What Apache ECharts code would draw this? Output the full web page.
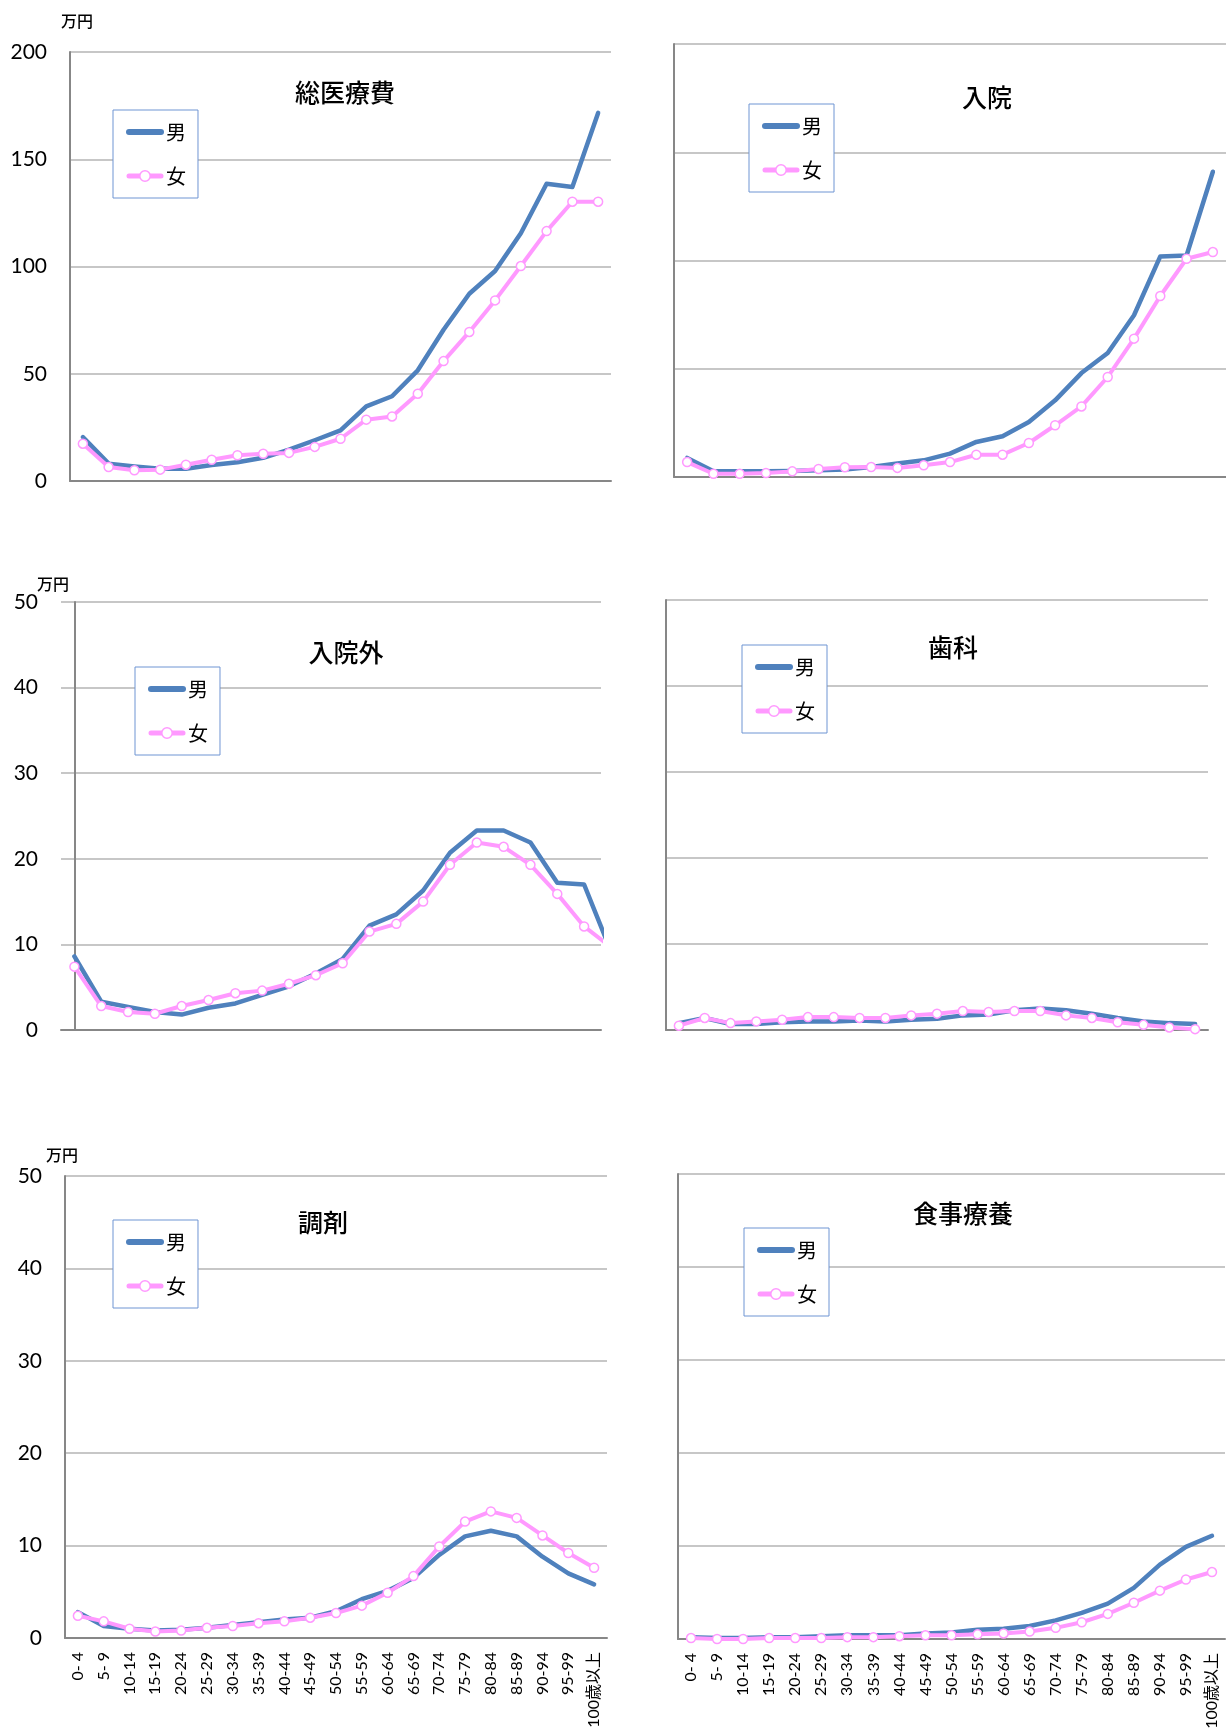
<!DOCTYPE html>
<html lang="ja">
<head>
<meta charset="utf-8">
<title>年齢階級別 一人当たり医療費</title>
<script src="https://cdn.jsdelivr.net/npm/echarts@6/dist/echarts.min.js"></script>
<style>
  html, body { margin: 0; padding: 0; background: #fff; }
  #chart { width: 1226px; height: 1733px; }
</style>
</head>
<body>
<div id="chart"></div>
<script>
// 年齢階級
const ageGroups = ['0- 4', '5- 9', '10-14', '15-19', '20-24', '25-29', '30-34', '35-39',
  '40-44', '45-49', '50-54', '55-59', '60-64', '65-69', '70-74', '75-79', '80-84',
  '85-89', '90-94', '95-99', '100歳以上'];

// 一人当たり医療費（万円）
const totalMale = [20.5, 8.1, 6.8, 5.7, 5.7, 7.5, 8.7, 10.8, 14.6, 19.0, 23.6, 34.8, 39.5, 51.6, 70.5, 87.3, 97.9, 115.5, 138.6, 137.1, 171.6];
const totalFemale = [17.4, 6.5, 5.0, 5.3, 7.6, 9.9, 12.0, 12.7, 13.1, 15.9, 19.7, 28.6, 30.1, 40.7, 55.9, 69.5, 84.2, 100.2, 116.5, 130.2, 130.2];

const inpatientMale = [8.8, 2.6, 2.6, 2.6, 2.8, 3.1, 3.5, 4.6, 6.2, 7.7, 10.8, 16.2, 18.8, 25.4, 35.4, 48.0, 57.3, 74.7, 101.9, 102.3, 141.0];
const inpatientFemale = [6.9, 1.5, 1.5, 1.8, 2.6, 3.7, 4.5, 4.6, 4.2, 5.4, 6.9, 10.3, 10.3, 15.7, 23.9, 32.6, 46.2, 63.9, 83.6, 100.8, 103.9];

const outpatientMale = [8.6, 3.3, 2.7, 2.1, 1.8, 2.6, 3.1, 4.1, 5.1, 6.6, 8.3, 12.2, 13.5, 16.3, 20.7, 23.3, 23.3, 21.9, 17.2, 17.0, 9.2];
const outpatientFemale = [7.4, 2.8, 2.1, 1.9, 2.8, 3.5, 4.3, 4.6, 5.4, 6.4, 7.8, 11.5, 12.4, 15.0, 19.3, 21.9, 21.4, 19.3, 15.9, 12.1, 9.7];

const dentalMale = [0.8, 1.4, 0.7, 0.7, 0.9, 1.0, 1.0, 1.1, 1.0, 1.2, 1.3, 1.7, 1.8, 2.3, 2.5, 2.3, 1.9, 1.4, 1.0, 0.8, 0.7];
const dentalFemale = [0.5, 1.4, 0.8, 1.0, 1.2, 1.5, 1.5, 1.4, 1.4, 1.7, 1.9, 2.2, 2.1, 2.2, 2.2, 1.7, 1.4, 0.9, 0.6, 0.3, 0.1];

const pharmacyMale = [2.8, 1.3, 1.0, 0.8, 0.9, 1.1, 1.4, 1.7, 2.0, 2.2, 2.9, 4.2, 5.1, 6.5, 9.0, 11.0, 11.6, 11.0, 8.8, 7.0, 5.8];
const pharmacyFemale = [2.4, 1.8, 1.0, 0.7, 0.8, 1.1, 1.3, 1.6, 1.8, 2.2, 2.7, 3.5, 4.9, 6.7, 9.9, 12.6, 13.7, 13.0, 11.1, 9.2, 7.6];

const mealMale = [0.2, 0.1, 0.1, 0.2, 0.2, 0.3, 0.4, 0.4, 0.4, 0.6, 0.7, 1.0, 1.1, 1.4, 2.0, 2.8, 3.8, 5.5, 8.0, 9.9, 11.1];
const mealFemale = [0.1, 0.0, 0.0, 0.1, 0.1, 0.1, 0.2, 0.2, 0.3, 0.4, 0.4, 0.5, 0.6, 0.8, 1.2, 1.8, 2.7, 3.9, 5.2, 6.4, 7.2];

const seriesNames = ['男', '女'];
const unitLabel = '万円';

// パネル構成（位置・目盛り）
const panels = [
  { title: '総医療費', male: totalMale, female: totalFemale, max: 200, interval: 50,
    yLabels: true, xLabels: false, grid: { left: 70, top: 52, width: 541, height: 429 },
    titleAt: [345, 92], legendAt: [113, 110], unitAt: [77, 21] },
  { title: '入院', male: inpatientMale, female: inpatientFemale, max: 200, interval: 50,
    yLabels: false, xLabels: false, grid: { left: 674, top: 44, width: 557, height: 433 },
    titleAt: [987, 97], legendAt: [749, 104] },
  // 右端が途切れたパネル：横軸を数値軸にして 95-99 の先で切る
  { title: '入院外', male: outpatientMale, female: outpatientFemale, max: 50, interval: 10,
    yLabels: true, xLabels: false, grid: { left: 61, top: 602, width: 540, height: 428 },
    cutAt: 19.63, titleAt: [346, 652], legendAt: [135, 667], unitAt: [53, 584] },
  { title: '歯科', male: dentalMale, female: dentalFemale, max: 50, interval: 10,
    yLabels: false, xLabels: false, grid: { left: 666, top: 600, width: 542, height: 430 },
    titleAt: [953, 647], legendAt: [742, 645] },
  { title: '調剤', male: pharmacyMale, female: pharmacyFemale, max: 50, interval: 10,
    yLabels: true, xLabels: true, grid: { left: 65, top: 1176, width: 542, height: 462 },
    titleAt: [323, 1222], legendAt: [113, 1220], unitAt: [62, 1155] },
  { title: '食事療養', male: mealMale, female: mealFemale, max: 50, interval: 10,
    yLabels: false, xLabels: true, grid: { left: 678, top: 1174, width: 547, height: 465 },
    titleAt: [963, 1213], legendAt: [744, 1228] }
];

const MALE = '#4f81bd';
const FEMALE = '#ff99ff';
const AXIS = '#878787';
const GRID = '#b4b4b4';
const NUM_FONT = 'Lato, "Liberation Sans", "Noto Sans CJK JP", sans-serif';
const JP_FONT = '"Noto Sans CJK JP", "Noto Sans", sans-serif';

const option = {
  animation: false,
  backgroundColor: '#fff',
  grid: [], xAxis: [], yAxis: [], series: [], legend: [], graphic: []
};

panels.forEach((p, i) => {
  option.grid.push(Object.assign({ containLabel: false }, p.grid));

  const axisLine = { show: true, lineStyle: { color: AXIS, width: 2 } };
  if (p.cutAt !== undefined) {
    option.xAxis.push({
      type: 'value', gridIndex: i, min: -0.5, max: p.cutAt,
      axisLine: axisLine, axisTick: { show: false }, axisLabel: { show: false },
      splitLine: { show: false }
    });
  } else {
    option.xAxis.push({
      type: 'category', gridIndex: i, data: ageGroups, boundaryGap: true,
      axisLine: axisLine, axisTick: { show: false }, splitLine: { show: false },
      axisLabel: {
        show: p.xLabels, interval: 0, rotate: 90, margin: 14,
        fontSize: 16, fontFamily: NUM_FONT, color: '#000'
      }
    });
  }

  option.yAxis.push({
    type: 'value', gridIndex: i, min: 0, max: p.max, interval: p.interval,
    axisLine: axisLine, axisTick: { show: false },
    axisLabel: { show: p.yLabels, fontSize: 21, fontFamily: NUM_FONT, color: '#000', margin: 23 },
    splitLine: { show: true, lineStyle: { color: GRID, width: 1.5 } }
  });

  const toData = arr => (p.cutAt !== undefined ? arr.map((v, k) => [k, v]) : arr);

  option.series.push({
    name: seriesNames[0], type: 'line', xAxisIndex: i, yAxisIndex: i,
    data: toData(p.male), symbol: 'none', clip: true, silent: true, z: 3,
    lineStyle: { color: MALE, width: 4.5, cap: 'round', join: 'round' },
    itemStyle: { color: MALE },
    emphasis: { disabled: true }
  });
  option.series.push({
    name: seriesNames[1], type: 'line', xAxisIndex: i, yAxisIndex: i,
    data: toData(p.female), symbol: 'circle', symbolSize: 9, clip: true, silent: true, z: 4,
    lineStyle: { color: FEMALE, width: 4, cap: 'round', join: 'round' },
    itemStyle: { color: '#fff', borderColor: FEMALE, borderWidth: 1.5 },
    emphasis: { disabled: true }
  });

  option.legend.push({
    orient: 'vertical', left: p.legendAt[0], top: p.legendAt[1],
    data: [
      { name: seriesNames[0], itemStyle: { opacity: 0 },
        lineStyle: { color: MALE, width: 6, cap: 'round' } },
      { name: seriesNames[1], itemStyle: { color: '#fff', borderColor: FEMALE, borderWidth: 1.5 },
        lineStyle: { color: FEMALE, width: 5, cap: 'round' } }
    ],
    selectedMode: false,
    backgroundColor: '#fff', borderColor: '#6f95d3', borderWidth: 1, borderRadius: 0,
    padding: [12, 12, 12, 13], itemGap: 24, itemWidth: 32, itemHeight: 13,
    textStyle: { fontSize: 20, lineHeight: 20, fontFamily: JP_FONT, color: '#000' }
  });

  option.graphic.push({
    type: 'text', x: p.titleAt[0], y: p.titleAt[1], silent: true, z: 10,
    style: {
      text: p.title, fill: '#000', fontSize: 25, fontWeight: 500, fontFamily: JP_FONT,
      align: 'center', verticalAlign: 'middle', textAlign: 'center', textVerticalAlign: 'middle'
    }
  });
  if (p.unitAt) {
    option.graphic.push({
      type: 'text', x: p.unitAt[0], y: p.unitAt[1], silent: true, z: 10,
      style: {
        text: unitLabel, fill: '#000', fontSize: 16, fontWeight: 500, fontFamily: JP_FONT,
        align: 'center', verticalAlign: 'middle', textAlign: 'center', textVerticalAlign: 'middle'
      }
    });
  }
});

const chart = echarts.init(document.getElementById('chart'), null, { renderer: 'canvas' });
chart.setOption(option);
</script>
</body>
</html>
